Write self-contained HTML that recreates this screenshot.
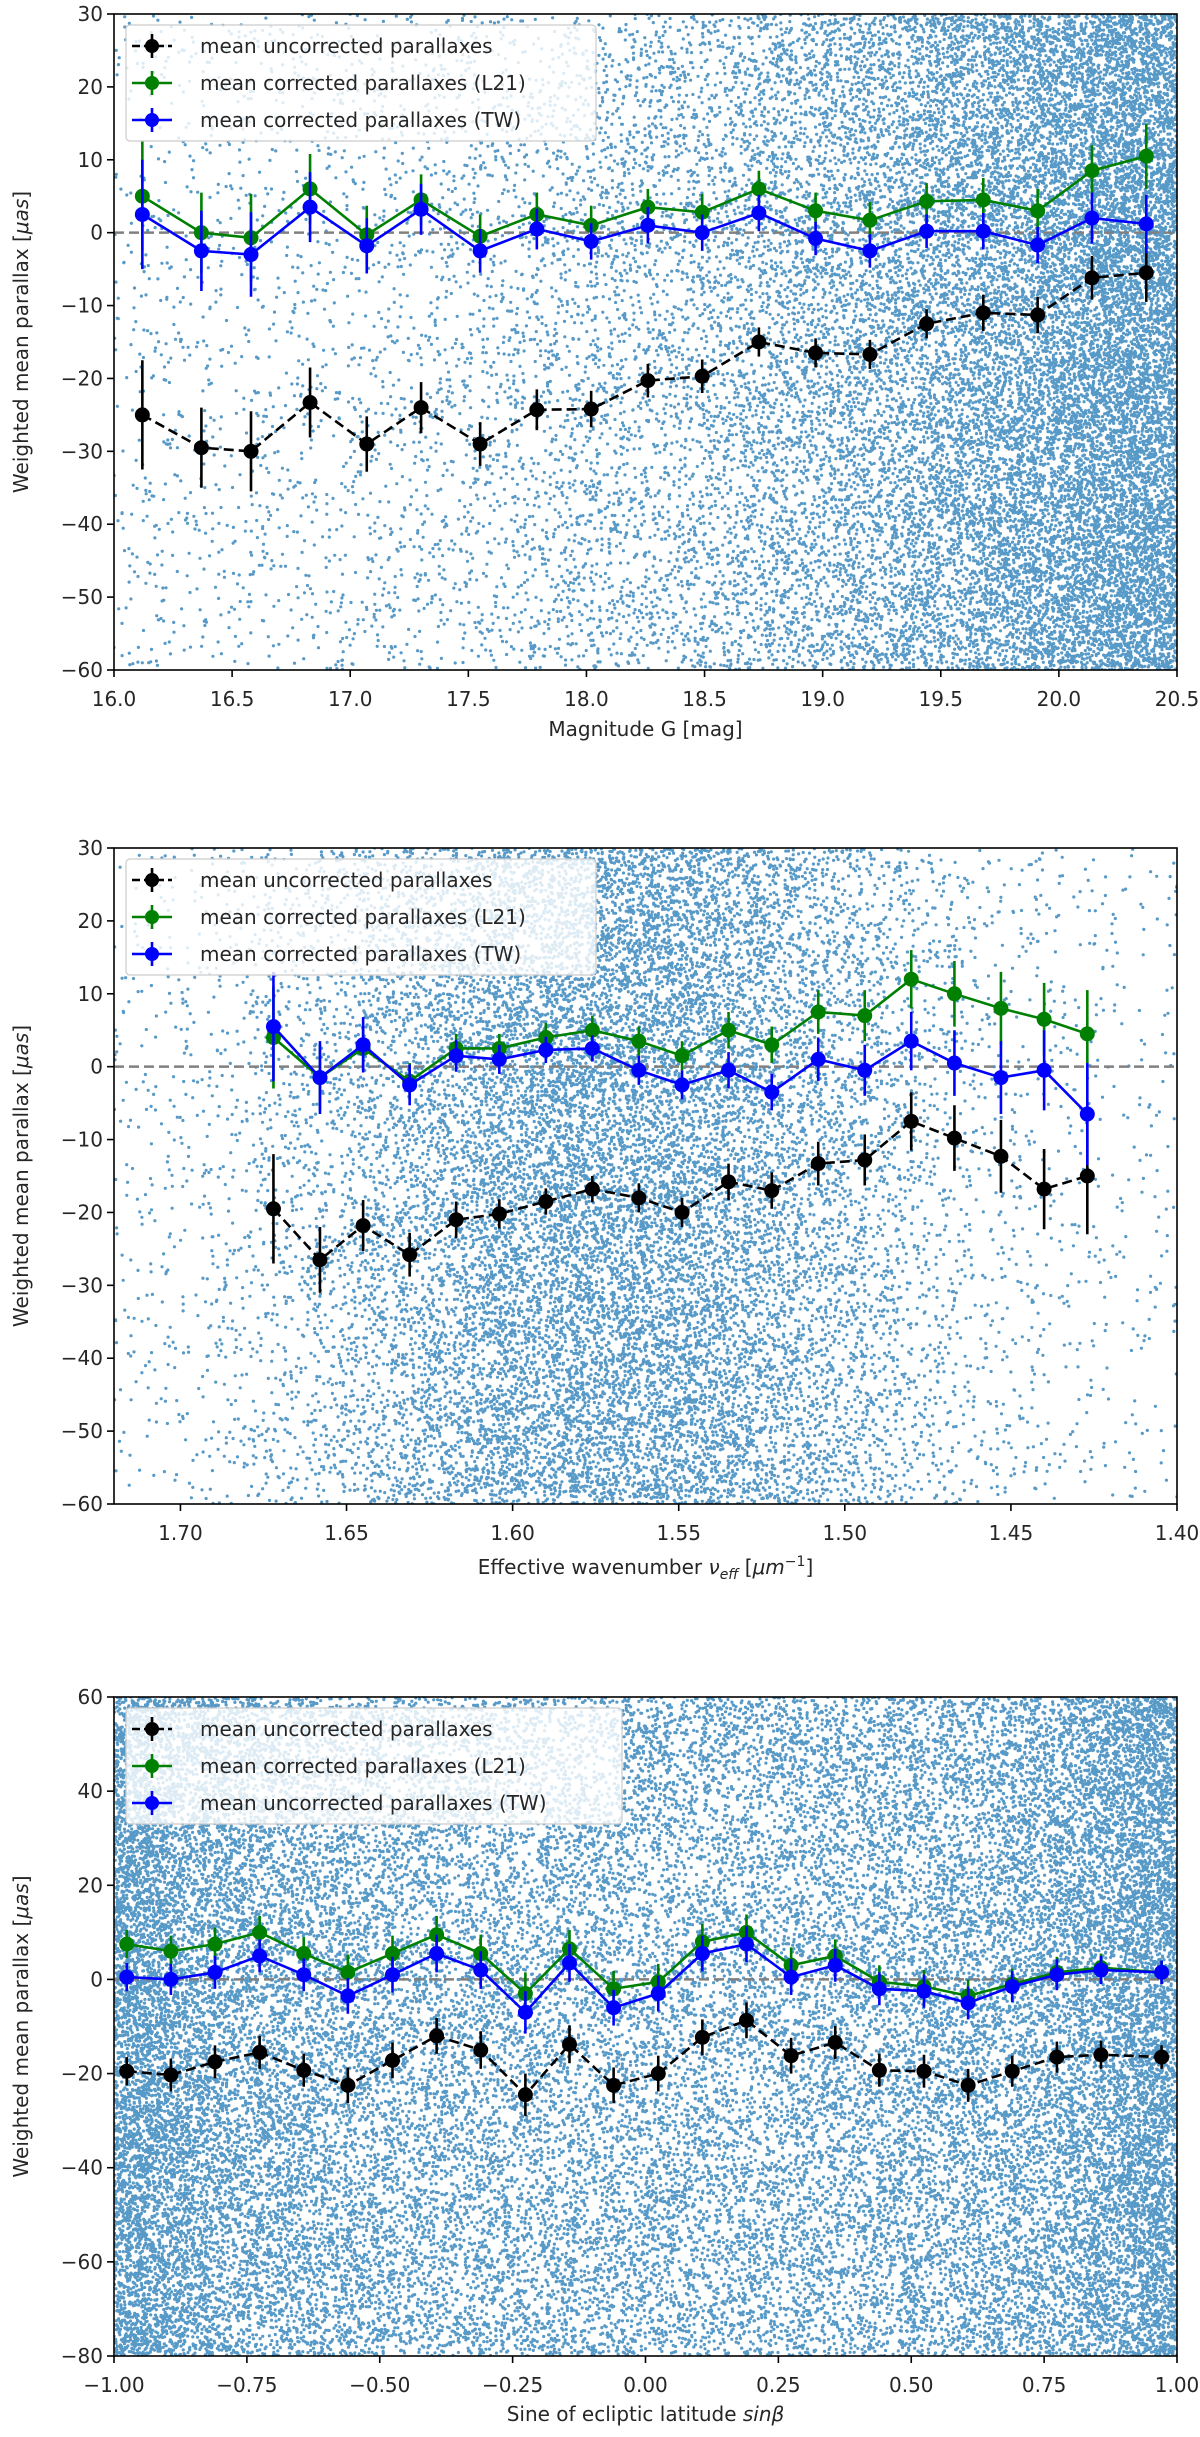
<!DOCTYPE html>
<html><head><meta charset="utf-8">
<style>
html,body{margin:0;padding:0;background:#fff;}
svg{display:block;font-family:"DejaVu Sans","Liberation Sans",sans-serif;}
</style></head>
<body>
<svg id="fig" width="1200" height="2437" viewBox="0 0 1200 2437" xmlns="http://www.w3.org/2000/svg"></svg>
<script>
// ---------- Panel 1: magnitude G ----------
const p1X = [16.12,16.37,16.58,16.83,17.07,17.30,17.55,17.79,18.02,18.26,18.49,18.73,18.97,19.20,19.44,19.68,19.91,20.14,20.37];
const p1Unc = [-25,-29.5,-30,-23.3,-29,-24,-29,-24.3,-24.2,-20.3,-19.7,-15,-16.5,-16.7,-12.5,-11,-11.3,-6.2,-5.5];
const p1UncErr = [7.5,5.5,5.5,4.8,3.8,3.5,3,2.8,2.5,2.3,2.3,2,2,2,2,2.5,2.5,3,4];
const p1L21 = [5,0,-0.7,6,-0.3,4.5,-0.5,2.5,1,3.5,2.8,6,3,1.7,4.3,4.5,3,8.5,10.5];
const p1L21Err = [7.5,5.5,6,4.8,4,3.5,3,3,2.7,2.5,2.5,2.5,2.5,2.5,2.5,3,3,3.5,4.5];
const p1TW = [2.5,-2.5,-3,3.5,-1.8,3.2,-2.5,0.5,-1.2,1,0,2.7,-0.8,-2.5,0.2,0.2,-1.7,2,1.2];
const p1TWErr = [7.5,5.5,5.8,4.8,3.8,3.5,3,2.8,2.5,2.5,2.5,2.5,2.3,2.3,2.3,2.5,2.5,3.5,4];
const p1XTicks = [16.0,16.5,17.0,17.5,18.0,18.5,19.0,19.5,20.0,20.5];
const p1XTickLabels = ["16.0","16.5","17.0","17.5","18.0","18.5","19.0","19.5","20.0","20.5"];
const p1YTicks = [-60,-50,-40,-30,-20,-10,0,10,20,30];

// ---------- Panel 2: effective wavenumber ----------
const p2X = [1.672,1.658,1.645,1.631,1.617,1.604,1.590,1.576,1.562,1.549,1.535,1.522,1.508,1.494,1.480,1.467,1.453,1.440,1.427];
const p2Unc = [-19.5,-26.5,-21.8,-25.8,-21,-20.2,-18.5,-16.8,-18,-20,-15.8,-17,-13.3,-12.8,-7.5,-9.8,-12.3,-16.8,-15];
const p2UncErr = [7.5,4.5,3.5,3,2.5,2,1.8,1.8,2,2,2.5,2.5,3,3.5,4,4.5,5,5.5,8];
const p2L21 = [4,-1.5,2.5,-2,2.5,2.5,4,5,3.5,1.5,5,3,7.5,7,12,10,8,6.5,4.5];
const p2L21Err = [7,4.5,3,2.5,2,2,2,2,2,2,2.5,2.5,3,3.5,4,4.5,5,5,6];
const p2TW = [5.5,-1.5,3,-2.5,1.5,1,2.3,2.5,-0.5,-2.5,-0.5,-3.5,1,-0.5,3.5,0.5,-1.5,-0.5,-6.5];
const p2TWErr = [7.5,5,3.8,2.8,2.2,2,1.8,1.8,2,2,2.5,2.5,3,3.5,4,4.5,5,5.5,7];
const p2XTicks = [1.70,1.65,1.60,1.55,1.50,1.45,1.40];
const p2XTickLabels = ["1.70","1.65","1.60","1.55","1.50","1.45","1.40"];
const p2YTicks = [-60,-50,-40,-30,-20,-10,0,10,20,30];

// ---------- Panel 3: sine of ecliptic latitude ----------
const p3X = [-0.976,-0.893,-0.810,-0.726,-0.643,-0.560,-0.476,-0.393,-0.310,-0.226,-0.143,-0.060,0.024,0.107,0.190,0.274,0.357,0.440,0.524,0.607,0.690,0.774,0.857,0.971];
const p3Unc = [-19.5,-20.3,-17.5,-15.5,-19.3,-22.5,-17.2,-12,-15,-24.5,-13.8,-22.5,-20,-12.3,-8.7,-16.2,-13.4,-19.3,-19.5,-22.5,-19.5,-16.5,-16,-16.5];
const p3UncErr = [3,3.5,3.5,3.5,3.5,3.8,3.8,3.8,4,4.5,4,3.8,3.8,3.8,3.8,3.8,3.5,3.5,3.5,3.5,3.3,3.3,3,2.5];
const p3L21 = [7.5,6,7.5,10,5.5,1.5,5.5,9.5,5.5,-3,6.5,-2,-0.5,8,10,3,5,-0.5,-1.5,-3.5,-1,1.5,2.5,1.5];
const p3L21Err = [3,3.3,3.5,3.5,3.5,3.8,3.8,4,4,4.5,4,3.8,3.8,3.8,3.8,3.8,3.5,3.5,3.5,3.5,3.3,3.3,3,2.5];
const p3TW = [0.5,0,1.5,5,1,-3.5,1,5.5,2,-7,3.5,-6,-3,5.5,7.5,0.5,3,-2,-2.5,-5,-1.5,1,2,1.5];
const p3TWErr = [3,3.3,3.5,3.5,3.5,3.8,3.8,4,4,4.5,4,3.8,3.8,3.8,3.8,3.8,3.5,3.5,3.5,3.5,3.3,3.3,3,2.5];
const p3XTicks = [-1.0,-0.75,-0.5,-0.25,0,0.25,0.5,0.75,1.0];
const p3XTickLabels = ["\u22121.00","\u22120.75","\u22120.50","\u22120.25","0.00","0.25","0.50","0.75","1.00"];
const p3YTicks = [-80,-60,-40,-20,0,20,40,60];

const NS = "http://www.w3.org/2000/svg";
const fig = document.getElementById('fig');
function mk(tag, attrs, parent){
  const e = document.createElementNS(NS, tag);
  for (const k in attrs) e.setAttribute(k, attrs[k]);
  (parent||fig).appendChild(e);
  return e;
}
function fmt(v){ return (v<0?"\u2212":"") + Math.abs(v); }

// deterministic background point-cloud texture generator
let seed = 123456789;
function rnd(){
  seed |= 0; seed = (seed + 0x6D2B79F5) | 0;
  let t = Math.imul(seed ^ (seed >>> 15), 1 | seed);
  t = (t + Math.imul(t ^ (t >>> 7), 61 | t)) ^ t;
  return ((t ^ (t >>> 14)) >>> 0) / 4294967296;
}

function panel(cfg){
  const L=114, R=1177, T=cfg.top, B=cfg.bottom;
  const xs = v => L + (v-cfg.x0)/(cfg.x1-cfg.x0)*(R-L);
  const ys = v => T + (cfg.y1-v)/(cfg.y1-cfg.y0)*(B-T);
  const g = mk('g',{});
  
  
  const clipId = cfg.name+'-clip';
  const defs = mk('defs',{},g);
  const cp = mk('clipPath',{id:clipId},defs);
  mk('rect',{x:L,y:T,width:R-L,height:B-T},cp);
  const plot = mk('g',{'clip-path':'url(#'+clipId+')'},g);
  
  

  // scatter cloud
  const parts = [];
  let n = 0, guard = 0;
  while (n < cfg.nPts && guard < cfg.nPts*40){
    guard++;
    const u = rnd(), v = rnd();
    if (rnd() > cfg.density(u)) continue;
    const px = L + u*(R-L), py = T + v*(B-T);
    parts.push("M"+px.toFixed(1)+" "+py.toFixed(1)+"h0.01");
    n++;
  }
  const sc = mk('path',{d:parts.join(""),stroke:'#1f77b4','stroke-opacity':'0.75','stroke-width':'3.2','stroke-linecap':'round',fill:'none'},plot);
  
  

  // zero line
  const z = mk('line',{x1:L,x2:R,y1:ys(0),y2:ys(0),stroke:'#808080','stroke-width':'2.5','stroke-dasharray':'10,5'},plot);
  
  

  function series(xv, yv, ev, color, dashed, sname){
    const sg = mk('g',{},plot);
    
    
    xv.forEach((x,i)=>{
      const eb = mk('line',{x1:xs(x),x2:xs(x),y1:ys(yv[i]-ev[i]),y2:ys(yv[i]+ev[i]),stroke:color,'stroke-width':'2.6'},sg);
      
      
    });
    const pts = xv.map((x,i)=>xs(x).toFixed(1)+","+ys(yv[i]).toFixed(1)).join(" ");
    const pl = mk('polyline',{points:pts,fill:'none',stroke:color,'stroke-width':'2.6'},sg);
    if (dashed) pl.setAttribute('stroke-dasharray','10,5');
    
    
    xv.forEach((x,i)=>{
      const c = mk('circle',{cx:xs(x),cy:ys(yv[i]),r:7.5,fill:color},sg);
      
      
    });
  }
  series(cfg.xv, cfg.unc, cfg.uncErr, '#000000', true, 'uncorrected-series');
  series(cfg.xv, cfg.l21, cfg.l21Err, '#008000', false, 'l21-series');
  series(cfg.xv, cfg.tw, cfg.twErr, '#0000ff', false, 'tw-series');

  // frame
  const fr = mk('rect',{x:L,y:T,width:R-L,height:B-T,fill:'none',stroke:'#000','stroke-width':'1.6'},g);
  
  

  // ticks
  const xa = mk('g',{},g);
  
  
  cfg.xTicks.forEach((t,i)=>{
    const x = xs(t);
    mk('line',{x1:x,x2:x,y1:B,y2:B+7,stroke:'#000','stroke-width':'1.6'},xa);
    const tx = mk('text',{x:x,y:B+36,'font-size':'20','text-anchor':'middle',fill:'#262626'},xa);
    tx.textContent = cfg.xLabels[i];
    
    
  });
  const ya = mk('g',{},g);
  
  
  cfg.yTicks.forEach(t=>{
    const y = ys(t);
    mk('line',{x1:L-7,x2:L,y1:y,y2:y,stroke:'#000','stroke-width':'1.6'},ya);
    const tx = mk('text',{x:L-11,y:y+7,'font-size':'20','text-anchor':'end',fill:'#262626'},ya);
    tx.textContent = fmt(t);
    
    
  });
  const xt = mk('text',{x:(L+R)/2,y:B+cfg.xlabOff,'font-size':'20','text-anchor':'middle',fill:'#262626'},g);
  xt.innerHTML = cfg.xTitle;
  
  
  const yc = (T+B)/2;
  const yt = mk('text',{x:0,y:0,'font-size':'20','text-anchor':'middle',fill:'#262626',transform:'translate(28,'+yc+') rotate(-90)'},g);
  yt.innerHTML = 'Weighted mean parallax [<tspan font-style="italic">\u03bcas</tspan>]';
  
  

  // legend
  const lg = mk('g',{},g);
  
  
  const lx = 126, ly = T+11;
  mk('rect',{x:lx,y:ly,width:cfg.legW,height:116,rx:4,fill:'#fff','fill-opacity':'0.8',stroke:'#cccccc','stroke-width':'1.2'},lg);
  const items = [['#000',true,'mean uncorrected parallaxes'],['#008000',false,'mean corrected parallaxes (L21)'],['#0000ff',false,cfg.twLabel]];
  items.forEach((it,i)=>{
    const cy = ly+21+i*37;
    const ig = mk('g',{},lg);
    
    
    const ln = mk('line',{x1:lx+6,x2:lx+46,y1:cy,y2:cy,stroke:it[0],'stroke-width':'2.6'},ig);
    if (it[1]) ln.setAttribute('stroke-dasharray','8,4');
    mk('line',{x1:lx+26,x2:lx+26,y1:cy-12,y2:cy+12,stroke:it[0],'stroke-width':'2.6'},ig);
    mk('circle',{cx:lx+26,cy:cy,r:7,fill:it[0]},ig);
    const t = mk('text',{x:lx+74,y:cy+7,'font-size':'20',fill:'#262626'},ig);
    t.textContent = it[2];
  });
}

panel({name:'magnitude-panel',top:14,bottom:670,x0:16,x1:20.5,y0:-60,y1:30,
  xv:p1X,unc:p1Unc,uncErr:p1UncErr,l21:p1L21,l21Err:p1L21Err,tw:p1TW,twErr:p1TWErr,
  xTicks:p1XTicks,xLabels:p1XTickLabels,yTicks:p1YTicks,xlabOff:66,
  xTitle:'Magnitude G [mag]',legW:470,twLabel:'mean corrected parallaxes (TW)',
  nPts:26000,density:u=>Math.min(1,0.02+Math.exp((u-0.95)*4.2))});

panel({name:'wavenumber-panel',top:848,bottom:1504,x0:1.72,x1:1.40,y0:-60,y1:30,
  xv:p2X,unc:p2Unc,uncErr:p2UncErr,l21:p2L21,l21Err:p2L21Err,tw:p2TW,twErr:p2TWErr,
  xTicks:p2XTicks,xLabels:p2XTickLabels,yTicks:p2YTicks,xlabOff:70,
  xTitle:'Effective wavenumber <tspan font-style="italic">\u03bd</tspan><tspan font-style="italic" font-size="14" dy="5">eff</tspan><tspan dy="-5"> [</tspan><tspan font-style="italic">\u03bcm</tspan><tspan font-size="14" dy="-8">\u22121</tspan><tspan dy="8">]</tspan>',
  legW:470,twLabel:'mean corrected parallaxes (TW)',
  nPts:20000,density:u=>{const x=1.72-u*0.32;return 0.04+Math.exp(-Math.pow((x-1.57)/0.05,2)/2);}});

panel({name:'ecliptic-latitude-panel',top:1697,bottom:2356,x0:-1,x1:1,y0:-80,y1:60,
  xv:p3X,unc:p3Unc,uncErr:p3UncErr,l21:p3L21,l21Err:p3L21Err,tw:p3TW,twErr:p3TWErr,
  xTicks:p3XTicks,xLabels:p3XTickLabels,yTicks:p3YTicks,xlabOff:65,
  xTitle:'Sine of ecliptic latitude <tspan font-style="italic">sin\u03b2</tspan>',legW:496,twLabel:'mean uncorrected parallaxes (TW)',
  nPts:42000,density:u=>{const x=u*2-1;return Math.min(1,0.35/Math.sqrt(Math.max(0.0005,1-x*x)));}});
</script>
</body></html>
